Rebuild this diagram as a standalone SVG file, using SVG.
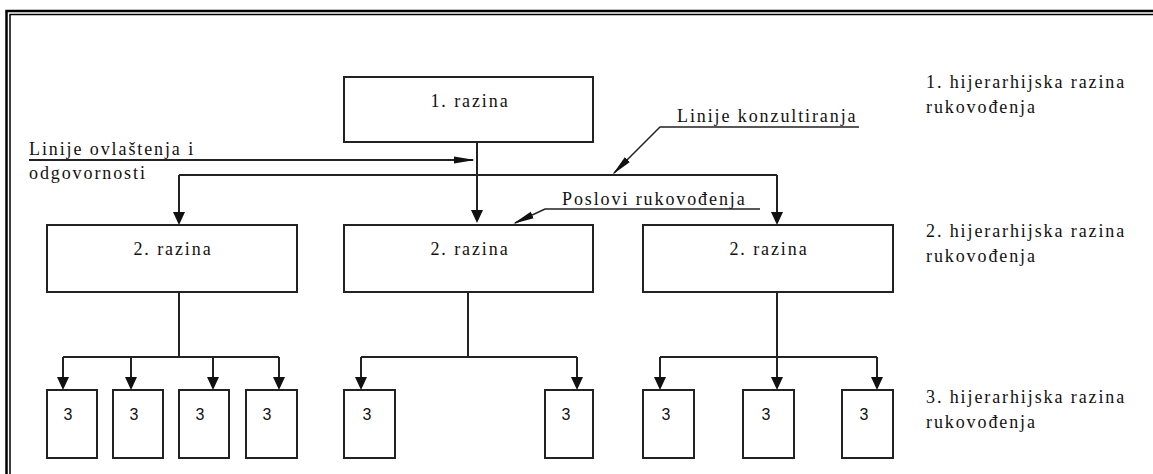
<svg xmlns="http://www.w3.org/2000/svg" width="1153" height="474" viewBox="0 0 1153 474">
<style>
.bx{fill:#fff;stroke:#222;stroke-width:2}
.ln{fill:none;stroke:#222;stroke-width:2}
.ld{fill:none;stroke:#222;stroke-width:1.5}
.t{font-family:"Liberation Serif",serif;font-size:18px;letter-spacing:1.9px;fill:#111}
.c{text-anchor:middle}
.n{font-family:"Liberation Sans",sans-serif;font-size:16px;fill:#111;text-anchor:middle}
</style>
<defs>
<marker id="a" markerWidth="13" markerHeight="12" refX="11" refY="6" orient="auto" markerUnits="userSpaceOnUse"><path d="M0,0 L13,6 L0,12 z" fill="#111"/></marker>
<marker id="s" markerWidth="21" markerHeight="8" refX="19" refY="4" orient="auto" markerUnits="userSpaceOnUse"><path d="M0,0.5 L21,4 L0,7.5 z" fill="#111"/></marker>
</defs>
<rect width="1153" height="474" fill="#fff"/>
<g id="frame">
<path d="M6.5,474 V11 H1153" fill="none" stroke="#000" stroke-width="2.5"/>
<path d="M10,474 V14.5 H1153" fill="none" stroke="#000" stroke-width="1.5"/>
</g>
<g id="connectors">
<path class="ln" d="M477,142 V221" marker-end="url(#a)"/>
<path class="ln" d="M29,160 H473" marker-end="url(#s)"/>
<path class="ln" d="M179,175 H777"/>
<path class="ln" d="M179,175 V223" marker-end="url(#a)"/>
<path class="ln" d="M777,175 V223" marker-end="url(#a)"/>
<path class="ln" d="M179,292 V357 M63,357 H279"/>
<path class="ln" d="M63,357 V388" marker-end="url(#a)"/>
<path class="ln" d="M131,357 V388" marker-end="url(#a)"/>
<path class="ln" d="M213,357 V388" marker-end="url(#a)"/>
<path class="ln" d="M279,357 V388" marker-end="url(#a)"/>
<path class="ln" d="M468,292 V357 M361,357 H577"/>
<path class="ln" d="M361,357 V388" marker-end="url(#a)"/>
<path class="ln" d="M577,357 V388" marker-end="url(#a)"/>
<path class="ln" d="M660,357 H877"/>
<path class="ln" d="M777,292 V388" marker-end="url(#a)"/>
<path class="ln" d="M660,357 V388" marker-end="url(#a)"/>
<path class="ln" d="M877,357 V388" marker-end="url(#a)"/>
<path class="ld" d="M859,127 H660 L614,173" marker-end="url(#s)"/>
<path class="ld" d="M760,209 H545 L515,223" marker-end="url(#s)"/>
</g>
<g id="n1"><rect class="bx" x="344" y="77" width="249" height="65"/><text class="t c" x="470" y="107">1. razina</text></g>
<g id="n2a"><rect class="bx" x="47" y="225" width="250" height="67"/><text class="t c" x="173" y="255">2. razina</text></g>
<g id="n2b"><rect class="bx" x="344" y="225" width="249" height="67"/><text class="t c" x="470" y="255">2. razina</text></g>
<g id="n2c"><rect class="bx" x="643" y="225" width="250" height="67"/><text class="t c" x="769" y="255">2. razina</text></g>
<g id="n3a"><rect class="bx" x="47" y="390" width="50" height="68"/><text class="n" x="68" y="420">3</text></g>
<g id="n3b"><rect class="bx" x="113" y="390" width="50" height="68"/><text class="n" x="134" y="420">3</text></g>
<g id="n3c"><rect class="bx" x="179" y="390" width="50" height="68"/><text class="n" x="200" y="420">3</text></g>
<g id="n3d"><rect class="bx" x="246" y="390" width="51" height="68"/><text class="n" x="267" y="420">3</text></g>
<g id="n3e"><rect class="bx" x="344" y="390" width="51" height="68"/><text class="n" x="367" y="420">3</text></g>
<g id="n3f"><rect class="bx" x="545" y="390" width="48" height="68"/><text class="n" x="566" y="420">3</text></g>
<g id="n3g"><rect class="bx" x="643" y="390" width="51" height="68"/><text class="n" x="666" y="420">3</text></g>
<g id="n3h"><rect class="bx" x="743" y="390" width="51" height="68"/><text class="n" x="766" y="420">3</text></g>
<g id="n3i"><rect class="bx" x="842" y="390" width="51" height="68"/><text class="n" x="864" y="420">3</text></g>
<g id="labels">
<text class="t" x="29" y="155">Linije ovlaštenja i</text>
<text class="t" x="29" y="179">odgovornosti</text>
<text class="t" x="677" y="122">Linije konzultiranja</text>
<text class="t" x="562" y="205">Poslovi rukovođenja</text>
<text class="t" x="926" y="88">1. hijerarhijska razina</text>
<text class="t" x="926" y="113">rukovođenja</text>
<text class="t" x="926" y="237">2. hijerarhijska razina</text>
<text class="t" x="926" y="262">rukovođenja</text>
<text class="t" x="926" y="403">3. hijerarhijska razina</text>
<text class="t" x="926" y="428">rukovođenja</text>
</g>
</svg>
